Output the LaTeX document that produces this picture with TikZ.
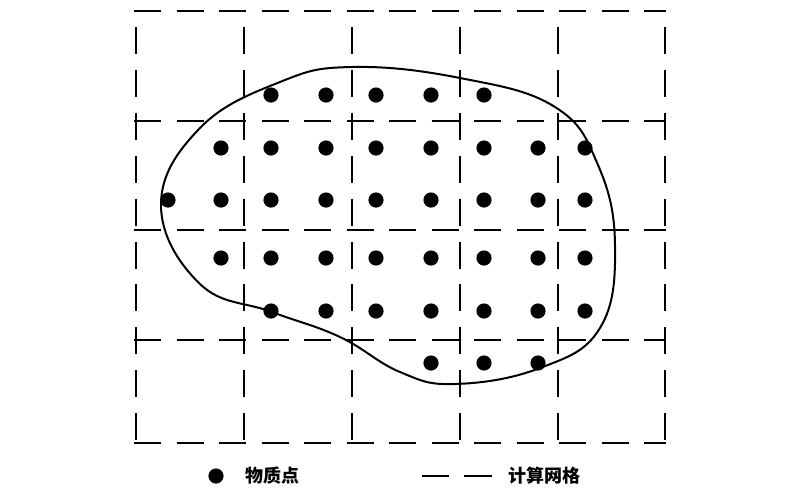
\documentclass[tikz,border=0pt]{standalone}
\usepackage{fontspec}
\newfontfamily\cjk{Noto Sans CJK SC}
\begin{document}
\begin{tikzpicture}[x=0.5pt,y=-0.5pt,
  vline/.style={line width=0.6pt,dash pattern=on 13.5pt off 7.95pt},
  hline/.style={line width=0.6pt,dash pattern=on 13.5pt off 7.75pt},
  dotpt/.style={circle,fill=black,inner sep=0pt,minimum size=7.6pt},
  boundary/.style={line width=1pt},
  legendtext/.style={font=\cjk\bfseries\fontsize{9}{10}\selectfont,anchor=west,inner sep=0pt}]
\useasboundingbox (0,0) rectangle (800,500);
% grid
\foreach \x in {136,244,352,460,558,665}
  \draw[vline] (\x,27) -- (\x,440);
\foreach \y in {11,121,230,340,443}
  \draw[hline] (134,\y) -- (666,\y);
% boundary
\draw[boundary] plot[smooth cycle,tension=0.7] coordinates {
 (161,205) (200,128) (280,82) (352,67) (460,78) (555,107) (598,165)
 (615,245) (600,328) (540,368) (455,384) (400,372) (340,337) (272,312)
 (200,284)};
% material points
\foreach \x [count=\i] in {271,326,376,431,484}
  \node[dotpt] (a\i) at (\x,95) {};
\foreach \x [count=\i] in {221,271,326,376,431,484,538,585}
  \node[dotpt] (b\i) at (\x,148) {};
\foreach \x [count=\i] in {168,221,271,326,376,431,484,538,585}
  \node[dotpt] (c\i) at (\x,200) {};
\foreach \x [count=\i] in {221,271,326,376,431,484,538,585}
  \node[dotpt] (d\i) at (\x,258) {};
\foreach \x [count=\i] in {271,326,376,431,484,538,585}
  \node[dotpt] (e\i) at (\x,311) {};
\foreach \x [count=\i] in {431,484,538}
  \node[dotpt] (f\i) at (\x,363) {};
% legend
\node[dotpt] (ldot) at (216,476) {};
\node[legendtext] (ltext1) at (245,476) {物质点};
\coordinate (ls1) at (422,476);
\coordinate (le1) at (449,476);
\coordinate (ls2) at (464,476);
\coordinate (le2) at (492,476);
\draw[line width=0.6pt] (ls1) -- (le1);
\draw[line width=0.6pt] (ls2) -- (le2);
\node[legendtext] (ltext2) at (508,476) {计算网格};
\end{tikzpicture}
\end{document}
